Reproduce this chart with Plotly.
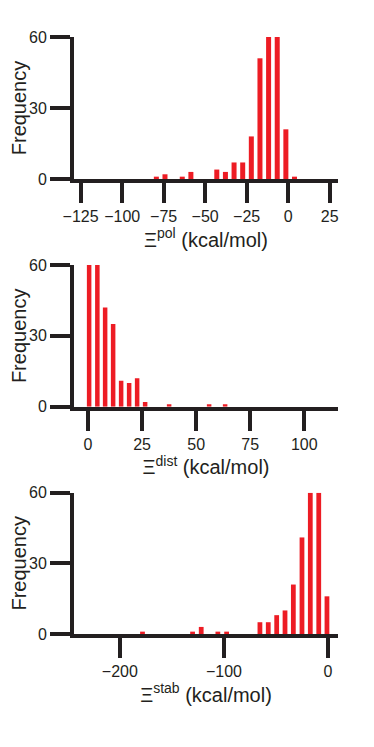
import plotly.graph_objects as go

# bin centres (kcal/mol) and counts
pol_x = [-79.4, -74.2, -63.8, -58.6, -43.0, -37.8, -32.6, -27.4, -22.2, -17.0, -11.8, -6.6, -1.4, 3.8]
pol_y = [1, 2, 1, 3, 4, 3, 7, 7, 18, 51, 60, 60, 21, 1]

dist_x = [0.5, 4.3, 7.9, 11.6, 15.3, 19.0, 22.7, 26.4, 37.5, 56.0, 63.4]
dist_y = [60, 60, 42, 35, 11, 10, 12, 2, 1, 1, 1]

stab_x = [-178.2, -130.1, -121.8, -105.8, -97.4, -65.4, -57.4, -49.3, -41.3, -33.3, -25.0, -17.0, -8.9, -1.0]
stab_y = [1, 1, 3, 1, 1, 5, 5, 8, 10, 21, 41, 60, 60, 16]

y_ticks = [0, 30, 60]
pol_ticks = [-125, -100, -75, -50, -25, 0, 25]
dist_ticks = [0, 25, 50, 75, 100]
stab_ticks = [-200, -100, 0]

BAR_RED = "#ED1C24"
INK = "#231F20"
FONT = "Liberation Sans, Arial, sans-serif"

panels = [
    (pol_x, pol_y, pol_ticks, [-129, 30], "pol", [0.7621, 1.0]),
    (dist_x, dist_y, dist_ticks, [-6.5, 115.6], "dist", [0.3807, 0.6181]),
    (stab_x, stab_y, stab_ticks, [-244, 9.6], "stab", [0.0, 0.2367]),
]

fig = go.Figure()
layout = {}
for i, (xs, ys, xt, xr, sup, dom) in enumerate(panels):
    n = "" if i == 0 else str(i + 1)
    fig.add_trace(go.Bar(x=xs, y=ys, marker_color=BAR_RED, marker_line_width=0,
                         xaxis="x" + n, yaxis="y" + n, showlegend=False))
    layout["xaxis" + n] = dict(
        domain=[0, 1], anchor="y" + n, range=xr, tickvals=xt,
        showline=True, linewidth=4, linecolor=INK,
        ticks="outside", ticklen=20, tickwidth=4, tickcolor=INK,
        showgrid=False, zeroline=False, automargin=False,
        tickfont=dict(size=16, color=INK, family=FONT),
        title=dict(text="\u039e<sup>" + sup + "</sup> (kcal/mol)",
                   font=dict(size=20, color=INK, family=FONT), standoff=6),
    )
    layout["yaxis" + n] = dict(
        domain=dom, anchor="x" + n, range=[0, 60], tickvals=y_ticks,
        showline=True, linewidth=4, linecolor=INK,
        ticks="outside", ticklen=20, tickwidth=4, tickcolor=INK,
        showgrid=False, zeroline=False, automargin=False,
        tickfont=dict(size=16, color=INK, family=FONT),
        title=dict(text="Frequency", font=dict(size=20, color=INK, family=FONT), standoff=16),
    )

# the page body adds an 8px offset, so the figure is a bit smaller than the window
fig.update_layout(
    width=366, height=739,
    margin=dict(l=66, r=36, t=29, b=113),
    plot_bgcolor="white", paper_bgcolor="white",
    bargap=0.42,
    font=dict(family=FONT, color=INK),
    **layout,
)

fig.write_html("out.html")
